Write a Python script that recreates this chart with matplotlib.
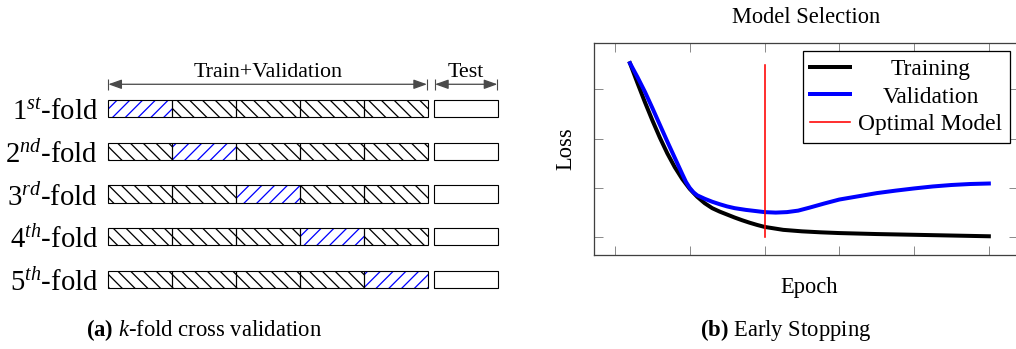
import numpy as np
import matplotlib.pyplot as plt

plt.rcParams['font.family'] = ['Liberation Serif', 'DejaVu Serif']
plt.rcParams['mathtext.fontset'] = 'custom'
plt.rcParams['mathtext.rm'] = 'Liberation Serif'
plt.rcParams['mathtext.it'] = 'Liberation Serif:italic'
plt.rcParams['mathtext.bf'] = 'Liberation Serif:bold'
plt.rcParams['hatch.linewidth'] = 0.8

W, H, DPI = 1016, 349, 115

# left panel: k-fold layout
fold_labels = [r'1$^{st}$-fold', r'2$^{nd}$-fold', r'3$^{rd}$-fold',
               r'4$^{th}$-fold', r'5$^{th}$-fold']
n_blocks = 5
val_block = [0, 1, 2, 3, 4]

# right panel: loss curves
epoch_train = [0.2, 0.3, 0.4, 0.5, 0.6, 0.7, 0.8, 0.9, 1.0, 1.1, 1.2, 1.3, 1.4, 1.5,
               1.6, 1.7, 1.8, 1.9, 2.0, 2.25, 2.5, 2.75, 3.0, 3.5, 4.0, 4.5, 5.0]
loss_train = [4.53, 4.13, 3.74, 3.37, 3.02, 2.70, 2.42, 2.18, 1.98, 1.82, 1.69, 1.59, 1.52, 1.46,
              1.40, 1.345, 1.295, 1.25, 1.21, 1.15, 1.12, 1.10, 1.085, 1.065, 1.05, 1.035, 1.02]
epoch_val = [0.2, 0.3, 0.4, 0.5, 0.6, 0.7, 0.8, 0.9, 0.95, 1.0, 1.05, 1.1, 1.2, 1.3, 1.4,
             1.5, 1.6, 1.75, 2.0, 2.15, 2.3, 2.45, 2.6, 2.8, 3.0, 3.25, 3.5, 3.75, 4.0,
             4.25, 4.5, 4.75, 5.0]
loss_val = [4.53, 4.25, 3.95, 3.62, 3.28, 2.94, 2.61, 2.28, 2.12, 2.00, 1.91, 1.85, 1.78, 1.72, 1.67,
            1.625, 1.59, 1.555, 1.51, 1.50, 1.51, 1.54, 1.60, 1.685, 1.765, 1.83, 1.895, 1.945, 1.99,
            2.03, 2.06, 2.08, 2.09]
opt_epoch = 2.0
opt_span = [1.0, 4.5]
xticks = [0, 1, 2, 3, 4, 5]
yticks = [1, 2, 3, 4]


def px_axes(fig, l, t, r, b):
    return fig.add_axes([l / W, 1 - b / H, (r - l) / W, (b - t) / H])


fig = plt.figure(figsize=(W / DPI, H / DPI), dpi=DPI)

# ---- (a) k-fold cross validation
ax1 = px_axes(fig, 108.3, 87.1, 498.3, 300.9)
ax1.set_xlim(0, 6.094)
ax1.set_ylim(4.5, -0.5)
ax1.axis('off')

test_left = 5.094
bar_h = 0.4
for i, lab in enumerate(fold_labels):
    train_cols = [c for c in range(n_blocks) if c != val_block[i]]
    bars = []
    bars += list(ax1.barh([i] * len(train_cols), 1, left=train_cols, height=bar_h,
                          color='white', edgecolor='black', hatch='\\\\\\', lw=0))
    bars += list(ax1.barh(i, 1, left=val_block[i], height=bar_h,
                          color='white', edgecolor='blue', hatch='///', lw=0))
    bars += list(ax1.barh([i] * n_blocks, 1, left=range(n_blocks), height=bar_h,
                          fill=False, edgecolor='black', lw=0.7))
    bars += list(ax1.barh(i, 1, left=test_left, height=bar_h,
                          color='white', edgecolor='black', lw=0.7))
    for b in bars:
        b.set_clip_on(False)
    ax1.text(-0.16, i + 0.27, lab, ha='right', va='baseline', fontsize=18)

gray = '#4a4a4a'
y_arr = -0.566
for x0, x1, name in [(0, 4.98, 'Train+Validation'), (5.105, 6.08, 'Test')]:
    ax1.annotate('', xy=(x0, y_arr), xytext=(x1, y_arr),
                 arrowprops=dict(arrowstyle='<|-|>,head_length=0.7,head_width=0.25',
                                 color=gray, lw=0.8, shrinkA=0, shrinkB=0,
                                 mutation_scale=10),
                 annotation_clip=False)
    ax1.vlines([x0, x1], -0.69, -0.43, color=gray, lw=0.7, clip_on=False)
    ax1.text((x0 + x1) / 2, -0.737, name, ha='center', va='baseline', fontsize=13.8)

fig.text(204 / W, 1 - 330 / H, r'$\mathbf{(a)}$ $k$-fold cross validation',
         ha='center', va='center', fontsize=14.2)

# ---- (b) Early stopping
ax2 = px_axes(fig, 594, 43, 1018, 255)
ax2.plot(epoch_train, loss_train, color='black', lw=2.5, label='Training')
ax2.plot(epoch_val, loss_val, color='blue', lw=2.5, label='Validation')
ax2.plot([opt_epoch, opt_epoch], opt_span, color='red', lw=1.0, label='Optimal Model')
ax2.set_xlim(-0.281, 5.39)
ax2.set_ylim(0.64, 4.94)
ax2.set_xticks(xticks)
ax2.set_yticks(yticks)
ax2.tick_params(direction='in', length=5.6, width=0.6, color='#888888',
                top=True, right=True, labelbottom=False, labelleft=False)
for s in ax2.spines.values():
    s.set_color('#404040')
    s.set_linewidth(0.8)

ax2.set_title('Model Selection', fontsize=14.1, pad=12.5)
ax2.text((565.5 - 594) / 424, 0.5, 'Loss', rotation=90, ha='center', va='center',
         transform=ax2.transAxes, fontsize=14.1)
ax2.text((809 - 594) / 424, (255 - 287) / 212, 'Epoch', ha='center', va='center',
         transform=ax2.transAxes, fontsize=14.1)

leg = ax2.legend(loc='upper right', fontsize=14.7, fancybox=False, edgecolor='black',
                 framealpha=1, borderpad=0.3, labelspacing=0.27, handlelength=1.7,
                 handletextpad=0.35, borderaxespad=0.36)
leg.get_frame().set_linewidth(0.8)

fig.text(786 / W, 1 - 330 / H, r'$\mathbf{(b)}$ Early Stopping',
         ha='center', va='center', fontsize=14.2)

# center the legend labels like the original
fig.canvas.draw()
rend = fig.canvas.get_renderer()
texts = leg.get_texts()
widths = [t.get_window_extent(rend).width for t in texts]
wmax = max(widths)
for t, w in zip(texts, widths):
    t.set_x((wmax - w) / 2)

fig.savefig('out.png', dpi=DPI)
